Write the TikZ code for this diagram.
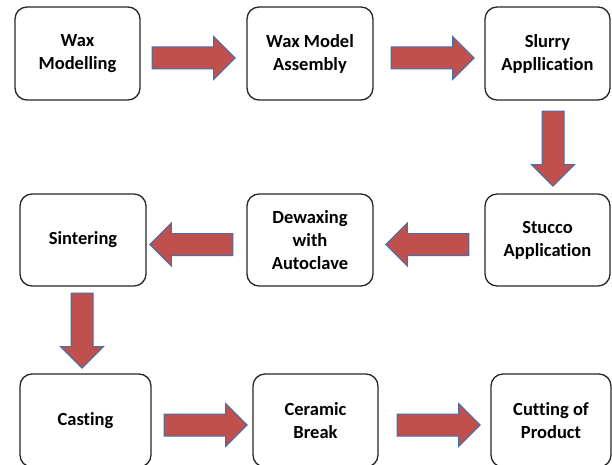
\documentclass[tikz,border=0pt]{standalone}
\usepackage{fontspec}
\setmainfont{Carlito}[Ligatures=NoCommon]
\usetikzlibrary{positioning,calc,shapes.arrows}
\definecolor{arrowred}{RGB}{192,80,77}
\definecolor{arrowline}{RGB}{70,110,170}

\begin{document}
\begin{tikzpicture}[x=1pt,y=-1pt]
\tikzstyle{step box}=[draw=black!85,line width=1.3pt,rounded corners=12pt,minimum width=125pt,minimum height=93pt,align=center,font=\bfseries\fontsize{18.5}{23}\selectfont]
\tikzstyle{flow}=[single arrow,draw=arrowline,fill=arrowred,line width=1pt,inner xsep=0pt,inner ysep=10.5pt,minimum height=83pt,minimum width=42pt,single arrow head extend=10.5pt,single arrow head indent=0pt,anchor=tail]
\tikzstyle{flow down}=[flow,inner xsep=10.5pt,inner ysep=0pt,minimum height=75pt,shape border rotate=270]
\useasboundingbox (0,0) rectangle (612,465);
\clip (0,0) rectangle (612,465);
% first row
\node[step box] (wax) at (77.5,53.5) {Wax\\Modelling};
\node[step box,minimum width=126pt] (assembly) at (310,53.5) {Wax Model\\Assembly};
\node[step box] (slurry) at (547.5,53.5) {Slurry\\Appllication};
% second row
\node[step box,minimum width=126pt,minimum height=92pt] (sinter) at (83,240) {Sintering};
\node[step box,minimum width=126pt,minimum height=92pt] (dewax) at (310,240) {Dewaxing\\with\\Autoclave};
\node[step box,minimum height=92pt] (stucco) at (547.5,240) {Stucco\\Application};
% third row
\node[step box,minimum width=131pt] (cast) at (85.5,420.5) {Casting};
\node[step box] (break) at (315.5,420.5) {Ceramic\\Break};
\node[step box,minimum width=120pt] (cut) at (551,420.5) {Cutting of\\Product};
% arrows
\node[flow] (f1) at ($(wax.east)+(11,4.5)$) {};
\node[flow] (f2) at ($(assembly.east)+(17,4.5)$) {};
\node[flow down] (f3) at ($(slurry.south)+(5.5,10)$) {};
\node[flow,shape border rotate=180] (f4) at ($(stucco.west)+(-15,4.5)$) {};
\node[flow,shape border rotate=180] (f5) at ($(dewax.west)+(-13,4.5)$) {};
\node[flow down] (f6) at ($(sinter.south)+(-1,6)$) {};
\node[flow] (f7) at ($(cast.east)+(12,4.5)$) {};
\node[flow] (f8) at ($(break.east)+(18,4.5)$) {};
\end{tikzpicture}
\end{document}
